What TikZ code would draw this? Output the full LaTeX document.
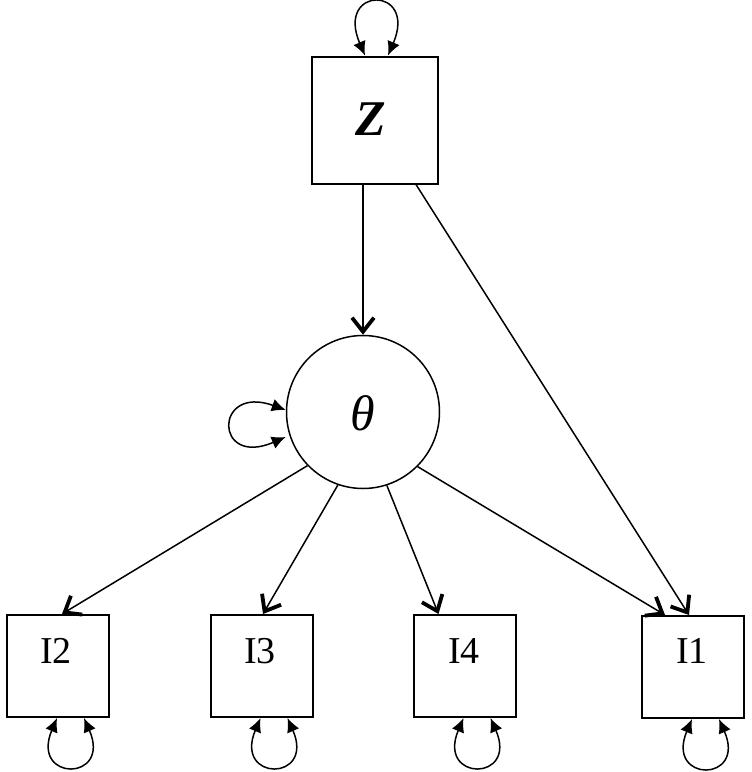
\documentclass[tikz,border=0pt]{standalone}
\usepackage{fontspec}
\setmainfont{Liberation Serif}
\usetikzlibrary{arrows.meta,calc}
\begin{document}
\begin{tikzpicture}[x=0.5pt,y=-0.5pt,
  box/.style={draw,line width=1pt,inner sep=0pt,minimum width=51pt,minimum height=51pt},
  lbl/.style={inner sep=0pt,font=\fontsize{19}{21}\selectfont},
  conn/.style={line width=0.75pt,-{Straight Barb[length=7pt,width=11pt,line width=1.9pt]}},
  selfloop/.style={line width=0.75pt,{Latex[length=7pt,width=6.5pt]}-{Latex[length=7pt,width=6.5pt]}}]
\useasboundingbox (0,0) rectangle (751,772);
\node[draw,line width=1pt,inner sep=0pt,minimum width=63pt,minimum height=63.5pt] (Z) at (375,120) {};
\node[inner sep=0pt,font=\fontsize{25}{27}\selectfont\bfseries\itshape] (Zl) at (371,119) {Z};
\node[draw,circle,line width=0.75pt,inner sep=0pt,minimum size=76.5pt] (T) at (363,412) {};
\node[inner sep=0pt,font=\fontsize{25}{27}\selectfont\itshape] (Tl) at (363,413) {θ};
\node[box] (I2) at (58,666) {};
\node[box] (I3) at (261.5,666) {};
\node[box] (I4) at (464.5,666) {};
\node[box] (I1) at (693,667) {};
\node[lbl] (I2l) at (56,651) {I2};
\node[lbl] (I3l) at (260,651) {I3};
\node[lbl] (I4l) at (464,651) {I4};
\node[lbl] (I1l) at (692,651) {I1};
% connectors
\draw[conn] (Z.south -| T.north) -- (T.north);
\draw[conn] ($(Z.south east)+(-23,0)$) -- ($(I1.north)+(-4,0)$);
\draw[conn] (T.224) -- ($(I2.north)+(4,0)$);
\draw[conn] (T.251) -- ($(I3.north)+(1.5,0)$);
\draw[conn] (T.288) -- ($(I4.north)+(-26,0)$);
\draw[conn] (T.315) -- ($(I1.north)+(-28,0)$);
% self loops
\draw[selfloop] ($(Z.north)+(-10,0)$) .. controls ($(Z.north)+(-40,-70)$) and ($(Z.north)+(43,-70)$) .. ($(Z.north)+(13,0)$);
\draw[selfloop] ($(T.west)+(0,-2)$) .. controls ($(T.west)+(-72,-28)$) and ($(T.west)+(-72,56)$) .. ($(T.west)+(0,25)$);
\foreach \n in {I2,I3,I4,I1}{
  \draw[selfloop] ($(\n.south)+(-1,0)$) .. controls ($(\n.south)+(-28,64)$) and ($(\n.south)+(54,64)$) .. ($(\n.south)+(26,0)$);
}
\end{tikzpicture}
\end{document}
